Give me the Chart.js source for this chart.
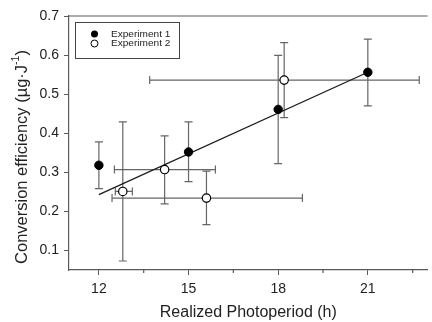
<!DOCTYPE html>
<html>
<head>
<meta charset="utf-8">
<script src="https://cdn.jsdelivr.net/npm/chart.js@4/dist/chart.umd.min.js"></script>
<style>
  html, body { margin: 0; padding: 0; background: #fff; overflow: hidden; }
  canvas { display: block; }
</style>
</head>
<body>
<canvas id="chart" width="433" height="322"></canvas>
<script>
// Experiment 1 (filled circles), vertical error bars only
const exp1X = [12, 15, 18, 21]
const exp1Y = [0.318, 0.352, 0.461, 0.556]
const exp1YLow = [0.258, 0.276, 0.322, 0.470]
const exp1YHigh = [0.378, 0.429, 0.599, 0.641]

// Experiment 2 (open circles), error bars in both directions
const exp2X = [12.8, 14.2, 15.6, 18.2]
const exp2Y = [0.251, 0.307, 0.234, 0.536]
const exp2YLow = [0.073, 0.219, 0.166, 0.440]
const exp2YHigh = [0.429, 0.393, 0.303, 0.632]
const exp2XLow = [12.55, 12.52, 12.44, 13.70]
const exp2XHigh = [13.12, 15.90, 18.81, 22.72]

// Regression line through experiment 1
const fitX = [12, 21]
const fitY = [0.243, 0.556]

// Axis ticks
const xTicks = [12, 15, 18, 21]
const xMinorTicks = [13.5, 16.5, 19.5, 22.5]
const yTicks = [0.1, 0.2, 0.3, 0.4, 0.5, 0.6, 0.7]

const legendLabels = ["Experiment 1", "Experiment 2"]

const AXIS_COLOR = "#5a5a5a"
const BAR_COLOR = "#666"
const TEXT_COLOR = "#222"
const FONT = "Liberation Sans, Arial, sans-serif"

const toPoints = (xs, ys) => xs.map((x, i) => ({ x: x, y: ys[i] }))

// error bars, frame, minor ticks, legend and y title
const decorations = {
  id: "decorations",
  beforeDatasetsDraw(chart) {
    const ctx = chart.ctx
    const xs = chart.scales.x
    const ys = chart.scales.y
    const cap = 4

    ctx.save()
    ctx.strokeStyle = BAR_COLOR
    ctx.lineWidth = 1.2

    const vBar = (x, lo, hi) => {
      const px = xs.getPixelForValue(x)
      const p1 = ys.getPixelForValue(lo)
      const p2 = ys.getPixelForValue(hi)
      ctx.beginPath()
      ctx.moveTo(px, p1); ctx.lineTo(px, p2)
      ctx.moveTo(px - cap, p1); ctx.lineTo(px + cap, p1)
      ctx.moveTo(px - cap, p2); ctx.lineTo(px + cap, p2)
      ctx.stroke()
    }
    const hBar = (y, lo, hi) => {
      const py = ys.getPixelForValue(y)
      const p1 = xs.getPixelForValue(lo)
      const p2 = xs.getPixelForValue(hi)
      ctx.beginPath()
      ctx.moveTo(p1, py); ctx.lineTo(p2, py)
      ctx.moveTo(p1, py - cap); ctx.lineTo(p1, py + cap)
      ctx.moveTo(p2, py - cap); ctx.lineTo(p2, py + cap)
      ctx.stroke()
    }

    exp1X.forEach((x, i) => vBar(x, exp1YLow[i], exp1YHigh[i]))
    exp2X.forEach((x, i) => {
      vBar(x, exp2YLow[i], exp2YHigh[i])
      hBar(exp2Y[i], exp2XLow[i], exp2XHigh[i])
    })
    ctx.restore()
  },
  afterDraw(chart) {
    const ctx = chart.ctx
    const area = chart.chartArea
    const xs = chart.scales.x

    ctx.save()
    // top frame line
    ctx.strokeStyle = AXIS_COLOR
    ctx.lineWidth = 1.2
    ctx.beginPath()
    ctx.moveTo(area.left, area.top)
    ctx.lineTo(area.right, area.top)
    ctx.stroke()

    // minor x ticks
    ctx.beginPath()
    xMinorTicks.forEach((v) => {
      const px = xs.getPixelForValue(v)
      ctx.moveTo(px, area.bottom)
      ctx.lineTo(px, area.bottom + 3)
    })
    ctx.stroke()

    // legend box
    const lx = 75, ly = 22, lw = 104, lh = 36
    ctx.strokeStyle = "#444"
    ctx.lineWidth = 1
    ctx.strokeRect(lx + 0.5, ly + 0.5, lw, lh)
    ctx.textBaseline = "middle"
    legendLabels.forEach((label, i) => {
      const cy = ly + 12 + i * 9.5
      ctx.beginPath()
      ctx.arc(lx + 19.5, cy, 3.5, 0, Math.PI * 2)
      if (i === 0) {
        ctx.fillStyle = "#000"
        ctx.fill()
      } else {
        ctx.fillStyle = "#fff"
        ctx.fill()
        ctx.strokeStyle = "#000"
        ctx.stroke()
      }
      // the legend text is a little wider than it is tall
      ctx.save()
      ctx.translate(lx + 36, cy + 0.5)
      ctx.scale(1.12, 1)
      ctx.font = "9px " + FONT
      ctx.fillStyle = TEXT_COLOR
      ctx.fillText(label, 0, 0)
      ctx.restore()
    })

    // y axis title with superscript
    ctx.translate(22, 157)
    ctx.rotate(-Math.PI / 2)
    const main = "Conversion efficiency (\u00b5g\u00b7J"
    const sup = "-1"
    const end = ")"
    ctx.font = "16.5px " + FONT
    const wMain = ctx.measureText(main).width
    const wEnd = ctx.measureText(end).width
    ctx.font = "10.5px " + FONT
    const wSup = ctx.measureText(sup).width
    let x0 = -(wMain + wSup + wEnd) / 2
    ctx.textBaseline = "middle"
    ctx.textAlign = "left"
    ctx.fillStyle = TEXT_COLOR
    ctx.font = "16.5px " + FONT
    ctx.fillText(main, x0, 0)
    ctx.font = "10.5px " + FONT
    ctx.fillText(sup, x0 + wMain, -6)
    ctx.font = "16.5px " + FONT
    ctx.fillText(end, x0 + wMain + wSup, 0)
    ctx.restore()
  },
}

new Chart(document.getElementById("chart"), {
  type: "scatter",
  data: {
    datasets: [
      {
        label: legendLabels[0],
        data: toPoints(exp1X, exp1Y),
        pointRadius: 4.2,
        pointBackgroundColor: "#000",
        pointBorderColor: "#000",
        pointBorderWidth: 1,
      },
      {
        label: legendLabels[1],
        data: toPoints(exp2X, exp2Y),
        pointRadius: 4.2,
        pointBackgroundColor: "#fff",
        pointBorderColor: "#000",
        pointBorderWidth: 1.2,
      },
      {
        label: "fit",
        data: toPoints(fitX, fitY),
        showLine: true,
        pointRadius: 0,
        borderColor: "#1a1a1a",
        borderWidth: 1.2,
      },
    ],
  },
  options: {
    responsive: false,
    animation: false,
    layout: { padding: { top: 16, right: 0, left: 0, bottom: 0 } },
    plugins: {
      legend: { display: false },
      tooltip: { enabled: false },
    },
    scales: {
      x: {
        type: "linear",
        min: 11,
        max: 23,
        afterBuildTicks: (scale) => { scale.ticks = xTicks.map((v) => ({ value: v })) },
        afterFit: (scale) => { scale.height = 52 },
        grid: { drawOnChartArea: false, drawTicks: true, tickLength: 5, color: AXIS_COLOR },
        border: { display: true, color: AXIS_COLOR, width: 1.2 },
        ticks: { color: TEXT_COLOR, font: { family: FONT, size: 14 }, padding: 6, maxRotation: 0 },
        title: {
          display: true,
          text: "Realized Photoperiod (h)",
          color: TEXT_COLOR,
          font: { family: FONT, size: 16 },
          padding: { top: 6, bottom: 0 },
        },
      },
      y: {
        type: "linear",
        min: 0.05,
        max: 0.7,
        afterBuildTicks: (scale) => { scale.ticks = yTicks.map((v) => ({ value: v })) },
        afterFit: (scale) => { scale.width = 69 },
        grid: { drawOnChartArea: false, drawTicks: true, tickLength: 5, color: AXIS_COLOR },
        border: { display: true, color: AXIS_COLOR, width: 1.2 },
        ticks: {
          color: TEXT_COLOR,
          font: { family: FONT, size: 14 },
          padding: 5,
          callback: (v) => v.toFixed(1),
        },
      },
    },
  },
  plugins: [decorations],
})
</script>
</body>
</html>
